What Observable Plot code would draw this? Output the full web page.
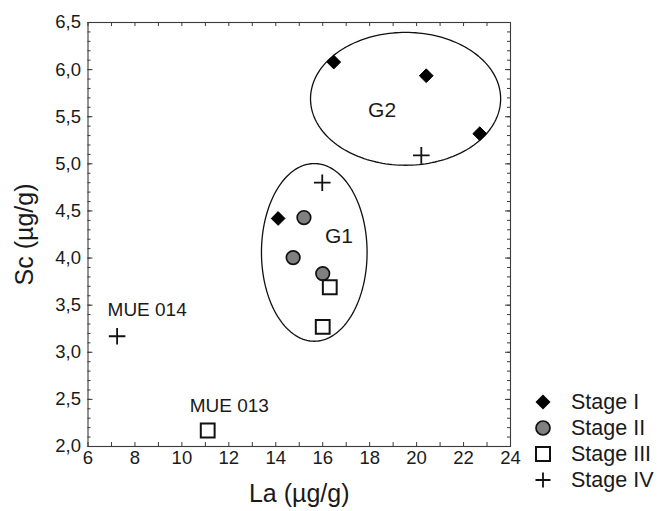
<!DOCTYPE html>
<html><head><meta charset="utf-8">
<script src="https://cdn.jsdelivr.net/npm/d3@7"></script>
<script src="https://cdn.jsdelivr.net/npm/@observablehq/plot@0.6"></script>
<style>
body{margin:0;background:#fff;font-family:"Liberation Sans",Arial,sans-serif;}
#wrap{position:relative;width:659px;height:511px;}
#legend{position:absolute;left:532px;top:389px;font-size:21.5px;color:#1a1a1a;}
.row{display:flex;align-items:center;height:26px;}
.row svg{width:22px;height:22px;margin-right:17px;}
</style></head><body>
<div id="wrap"><div id="chart"></div><div id="legend"></div></div>
<script>
// ---- data ----
const stageNames = ["Stage I", "Stage II", "Stage III", "Stage IV"];
const stageILa  = [16.47, 20.41, 22.69, 14.10];
const stageISc  = [6.08, 5.935, 5.32, 4.42];
const stageIILa = [15.20, 14.74, 16.00];
const stageIISc = [4.43, 4.005, 3.835];
const stageIIILa = [16.30, 16.00, 11.10];
const stageIIISc = [3.69, 3.27, 2.17];
const stageIVLa = [20.20, 15.98, 7.24];
const stageIVSc = [5.09, 4.80, 3.17];

const groupNames = ["G1", "G2"];
const groupCx = [15.64, 19.53];
const groupCy = [4.06, 5.69];
const groupRx = [2.25, 4.05];
const groupRy = [0.943, 0.705];
const groupLabelLa = [16.69, 18.53];
const groupLabelSc = [4.23, 5.57];

const noteTexts = ["MUE 014", "MUE 013"];
const noteLa = [8.52, 12.02];
const noteSc = [3.45, 2.43];

const xTickLabels = [6, 8, 10, 12, 14, 16, 18, 20, 22, 24];
const yTickLabels = [2.0, 2.5, 3.0, 3.5, 4.0, 4.5, 5.0, 5.5, 6.0, 6.5];
const xTitle = "La (µg/g)";
const yTitle = "Sc (µg/g)";

// ---- build tables ----
const pts = (xs, ys) => xs.map((x, i) => ({la: x, sc: ys[i]}));
const sI = pts(stageILa, stageISc), sII = pts(stageIILa, stageIISc),
      sIII = pts(stageIIILa, stageIIISc), sIV = pts(stageIVLa, stageIVSc);
const ellipses = groupNames.flatMap((g, i) =>
  d3.range(0, 360, 2).map(a => ({g,
    la: groupCx[i] + groupRx[i] * Math.cos(a * Math.PI / 180),
    sc: groupCy[i] + groupRy[i] * Math.sin(a * Math.PI / 180)})));
const groupLabels = groupNames.map((g, i) => ({g, la: groupLabelLa[i], sc: groupLabelSc[i]}));
const notes = noteTexts.map((t, i) => ({t, la: noteLa[i], sc: noteSc[i]}));

const W = 659, H = 511, mL = 87.5, mR = 149, mT = 22, mB = 65;
const pw = W - mL - mR, ph = H - mT - mB;
const minorX = d3.range(6, 24.01, 1);
const minorY = d3.range(20, 66).map(d => d / 10);
const majorY = yTickLabels;
const fmt = d => d.toFixed(1).replace(".", ",");
const ink = "#3a3a3a";

const chart = Plot.plot({
  width: W, height: H,
  marginLeft: mL, marginRight: mR, marginTop: mT, marginBottom: mB,
  x: {domain: [6, 24]},
  y: {domain: [2, 6.5]},
  style: {fontFamily: '"Liberation Sans", Arial, sans-serif', fontSize: "18.5px", color: "#1a1a1a", background: "#fff"},
  marks: [
    Plot.frame({stroke: ink, strokeWidth: 1.1}),
    Plot.tickX(minorX, {x: d => d, insetTop: ph - 4, stroke: ink}),
    Plot.tickX(minorX, {x: d => d, insetBottom: ph - 4, stroke: ink}),
    Plot.tickY(minorY, {y: d => d, insetRight: pw - 3, stroke: ink}),
    Plot.tickY(minorY, {y: d => d, insetLeft: pw - 3, stroke: ink}),
    Plot.tickY(majorY, {y: d => d, insetRight: pw - 5, stroke: ink}),
    Plot.tickY(majorY, {y: d => d, insetLeft: pw - 5, stroke: ink}),
    Plot.axisX({ticks: xTickLabels, tickSize: 0, tickPadding: 4, fontSize: 18.5, label: null, tickFormat: d => d}),
    Plot.axisY({ticks: yTickLabels, tickSize: 0, tickPadding: 7, fontSize: 18.5, label: null, tickFormat: fmt}),
    Plot.text([xTitle], {frameAnchor: "bottom", textAnchor: "middle", lineAnchor: "middle", dy: 47, fontSize: 25, text: d => d}),
    Plot.text([yTitle], {frameAnchor: "left", textAnchor: "middle", lineAnchor: "middle", dx: -63, rotate: -90, fontSize: 25, text: d => d}),
    Plot.line(ellipses, {x: "la", y: "sc", z: "g", curve: "linear-closed", stroke: "#111", strokeWidth: 1.3}),
    Plot.text(groupLabels, {x: "la", y: "sc", text: "g", fontSize: 21}),
    Plot.text(notes, {x: "la", y: "sc", text: "t", fontSize: 19}),
    Plot.dot(sI, {x: "la", y: "sc", symbol: "diamond2", r: 6.2, fill: "#000", stroke: "#000", strokeWidth: 1}),
    Plot.dot(sII, {x: "la", y: "sc", symbol: "circle", r: 6.8, fill: "#808080", stroke: "#111", strokeWidth: 1.7}),
    Plot.dot(sIII, {x: "la", y: "sc", symbol: "square", r: 7.8, fill: "#fff", stroke: "#111", strokeWidth: 2}),
    Plot.dot(sIV, {x: "la", y: "sc", symbol: "plus", r: 5.4, stroke: "#111", strokeWidth: 1.8})
  ]
});
document.getElementById("chart").appendChild(chart);

// ---- legend ----
const legendSym = [
  '<polygon points="11,3.5 18.5,11 11,18.5 3.5,11" fill="#000"/>',
  '<circle cx="11" cy="11" r="7" fill="#808080" stroke="#111" stroke-width="1.7"/>',
  '<rect x="4" y="4" width="14" height="14" fill="#fff" stroke="#111" stroke-width="2"/>',
  '<path d="M11 3.5V18.5M3.5 11H18.5" stroke="#111" stroke-width="1.8"/>'
];
document.getElementById("legend").innerHTML = stageNames.map((s, i) =>
  `<div class="row"><svg viewBox="0 0 22 22">${legendSym[i]}</svg><span>${s}</span></div>`).join("");
</script>
</body></html>
